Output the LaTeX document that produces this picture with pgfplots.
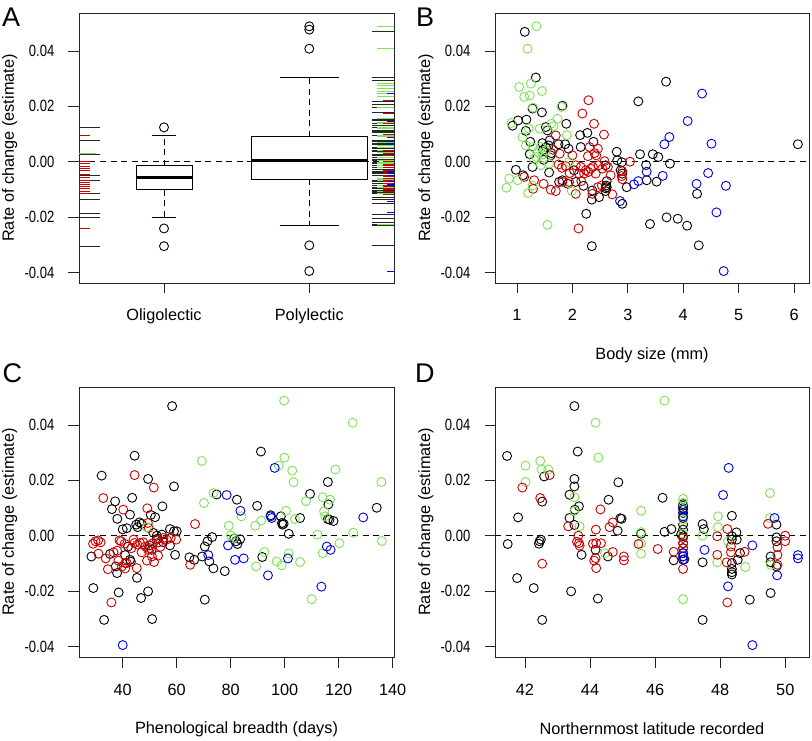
\documentclass[border=0pt]{standalone}
\usepackage{fontspec}
\setmainfont{Liberation Sans}
\usepackage{graphicx}
\usepackage{pgfplots}
\pgfplotsset{compat=1.18}

\definecolor{rred}{RGB}{205,0,0}
\definecolor{rgreen}{RGB}{125,228,85}
\definecolor{rblue}{RGB}{0,0,235}

% rug ticks: a line running inwards from the frame
\pgfdeclareplotmark{rugL}{\pgfpathmoveto{\pgfpointorigin}\pgfpathlineto{\pgfpoint{\pgfplotmarksize}{0pt}}\pgfusepathqstroke}
\pgfdeclareplotmark{rugR}{\pgfpathmoveto{\pgfpointorigin}\pgfpathlineto{\pgfpoint{-\pgfplotmarksize}{0pt}}\pgfusepathqstroke}

\newcommand\tickfont{\fontsize{16.3}{19}\selectfont}
\newcommand\letterfont{\fontsize{27}{30}\selectfont}
\newcommand\yl[1]{\scalebox{0.8}[1]{#1}}

\pgfplotsset{
  rpanel/.style={
    scale only axis, width=315pt, height=270pt,
    axis line style={black!85, line width=0.8pt},
    tick align=outside, tick pos=left, major tick length=10.5pt,
    every tick/.style={black!85, line width=0.8pt},
    ymin=-0.0438, ymax=0.0537, scaled y ticks=false,
    ytick={-0.04,-0.02,0,0.02,0.04},
    yticklabels={\yl{-0.04},\yl{-0.02},\yl{0.00},\yl{0.02},\yl{0.04}},
    tick label style={font=\tickfont, inner sep=0pt},
    xticklabel style={anchor=base, yshift=-27.5pt},
    yticklabel style={anchor=east, xshift=-14pt},
    ylabel={Rate of change (estimate)},
    every axis y label/.style={at={(axis description cs:-0.22,0.5)}, rotate=90, anchor=center, font=\tickfont},
    every axis x label/.style={at={(axis description cs:0.5,-0.267)}, anchor=center, font=\tickfont},
  },
  pts/.style={#1, only marks, mark=o, mark size=4.5pt, line width=0.9pt},
  zero/.style={black, line width=0.8pt, dash pattern=on 6pt off 4.5pt},
  rugl/.style={#1, only marks, mark=rugL, line width=0.9pt},
  rugr/.style={#1, only marks, mark=rugR, line width=0.9pt},
}

\begin{document}
\begin{tikzpicture}
\path[use as bounding box] (0pt,0pt) rectangle (812pt,740pt);

% ---------------- A ----------------
\begin{axis}[rpanel, at={(79pt,457pt)}, anchor=south west,
  xmin=0.415, xmax=2.583, xtick={1,2}, xticklabels={Oligolectic,Polylectic}]
\addplot[zero] coordinates {(0.415,0) (2.583,0)};
% left rug: oligolectic
\addplot[rugl=black!85, mark size=21pt] coordinates {(0.415,0.0125) (0.415,0.0075) (0.415,0.0027) (0.415,-0.0051) (0.415,-0.0068) (0.415,-0.0116) (0.415,-0.0137) (0.415,-0.0188) (0.415,-0.0202) (0.415,-0.0305)};
\addplot[rugl=rgreen, mark size=17pt] coordinates {(0.415,0.0031)};
\addplot[rugl=rred, mark size=11pt] coordinates {(0.415,0.0095) (0.415,0.0000) (0.415,-0.0007) (0.415,-0.0017) (0.415,-0.0025) (0.415,-0.0031) (0.415,-0.0045) (0.415,-0.0058) (0.415,-0.0066) (0.415,-0.0074) (0.415,-0.0082) (0.415,-0.0090) (0.415,-0.0098) (0.415,-0.0106) (0.415,-0.0115) (0.415,-0.0241)};
% right rug: polylectic
\addplot[rugr=black!85, mark size=22pt] table[row sep=\\] {x y\\
2.583 0.0469\\ 2.583 0.0304\\ 2.583 0.0294\\ 2.583 0.0218\\ 2.583 0.0206\\ 2.583 0.0195\\ 2.583 0.0178\\ 2.583 0.0152\\ 2.583 0.0149\\ 2.583 0.0137\\ 2.583 0.0130\\ 2.583 0.0124\\ 2.583 0.0113\\ 2.583 0.0110\\ 2.583 0.0106\\ 2.583 0.0104\\ 2.583 0.0096\\ 2.583 0.0076\\ 2.583 0.0072\\ 2.583 0.0067\\ 2.583 0.0063\\ 2.583 0.0061\\ 2.583 0.0053\\ 2.583 0.0047\\ 2.583 0.0040\\ 2.583 0.0036\\ 2.583 0.0027\\ 2.583 0.0024\\ 2.583 0.0017\\ 2.583 0.0007\\ 2.583 0.0005\\ 2.583 -0.0002\\ 2.583 -0.0007\\ 2.583 -0.0012\\ 2.583 -0.0020\\ 2.583 -0.0029\\ 2.583 -0.0035\\ 2.583 -0.0039\\ 2.583 -0.0043\\ 2.583 -0.0049\\ 2.583 -0.0067\\ 2.583 -0.0070\\ 2.583 -0.0073\\ 2.583 -0.0077\\ 2.583 -0.0080\\ 2.583 -0.0087\\ 2.583 -0.0092\\ 2.583 -0.0096\\ 2.583 -0.0104\\ 2.583 -0.0106\\ 2.583 -0.0111\\ 2.583 -0.0116\\ 2.583 -0.0128\\ 2.583 -0.0137\\ 2.583 -0.0152\\ 2.583 -0.0189\\ 2.583 -0.0206\\ 2.583 -0.0218\\ 2.583 -0.0225\\ 2.583 -0.0231\\ 2.583 -0.0302\\
};
\addplot[rugr=rgreen, mark size=17pt] table[row sep=\\] {x y\\
2.583 0.0489\\ 2.583 0.0408\\ 2.583 0.0284\\ 2.583 0.0275\\ 2.583 0.0265\\ 2.583 0.0255\\ 2.583 0.0246\\ 2.583 0.0236\\ 2.583 0.0195\\ 2.583 0.0155\\ 2.583 0.0140\\ 2.583 0.0137\\ 2.583 0.0125\\ 2.583 0.0119\\ 2.583 0.0096\\ 2.583 0.0090\\ 2.583 0.0070\\ 2.583 0.0059\\ 2.583 0.0053\\ 2.583 0.0041\\ 2.583 0.0035\\ 2.583 0.0017\\ 2.583 0.0004\\ 2.583 -0.0001\\ 2.583 -0.0007\\ 2.583 -0.0013\\ 2.583 -0.0020\\ 2.583 -0.0061\\ 2.583 -0.0063\\ 2.583 -0.0067\\ 2.583 -0.0086\\ 2.583 -0.0094\\ 2.583 -0.0106\\ 2.583 -0.0113\\ 2.583 -0.0228\\
};
\addplot[rugr=rred, mark size=11pt] table[row sep=\\] {x y\\
2.583 0.0222\\ 2.583 0.0176\\ 2.583 0.0137\\ 2.583 0.0098\\ 2.583 0.0042\\ 2.583 0.0029\\ 2.583 0.0023\\ 2.583 0.0002\\ 2.583 0.0000\\ 2.583 -0.0010\\ 2.583 -0.0014\\ 2.583 -0.0022\\ 2.583 -0.0030\\ 2.583 -0.0036\\ 2.583 -0.0043\\ 2.583 -0.0049\\ 2.583 -0.0055\\ 2.583 -0.0060\\ 2.583 -0.0067\\ 2.583 -0.0072\\ 2.583 -0.0080\\ 2.583 -0.0086\\ 2.583 -0.0090\\ 2.583 -0.0098\\ 2.583 -0.0101\\ 2.583 -0.0106\\ 2.583 -0.0117\\
};
\addplot[rugr=rblue, mark size=7pt] table[row sep=\\] {x y\\
2.583 0.0246\\ 2.583 0.0147\\ 2.583 0.0089\\ 2.583 0.0065\\ 2.583 0.0063\\ 2.583 -0.0036\\ 2.583 -0.0041\\ 2.583 -0.0051\\ 2.583 -0.0070\\ 2.583 -0.0082\\ 2.583 -0.0087\\ 2.583 -0.0143\\ 2.583 -0.0183\\ 2.583 -0.0395\\
};
% box plots
\addplot[black, line width=0.8pt] coordinates {(0.807,-0.0101) (1.193,-0.0101) (1.193,-0.00145) (0.807,-0.00145) (0.807,-0.0101)};
\addplot[black, line width=3.2pt] coordinates {(0.807,-0.00578) (1.193,-0.00578)};
\addplot[zero] coordinates {(1,-0.00145) (1,0.00952)};
\addplot[zero] coordinates {(1,-0.0101) (1,-0.0202)};
\addplot[black, line width=0.8pt] coordinates {(0.915,0.00952) (1.085,0.00952)};
\addplot[black, line width=0.8pt] coordinates {(0.915,-0.0202) (1.085,-0.0202)};
\addplot[pts=black] coordinates {(1,0.0124) (1,-0.0241) (1,-0.0305)};
\addplot[black, line width=0.8pt] coordinates {(1.601,-0.00627) (2.399,-0.00627) (2.399,0.00904) (1.601,0.00904) (1.601,-0.00627)};
\addplot[black, line width=3.2pt] coordinates {(1.601,0.00036) (2.399,0.00036)};
\addplot[zero] coordinates {(2,0.00904) (2,0.0304)};
\addplot[zero] coordinates {(2,-0.00627) (2,-0.0231)};
\addplot[black, line width=0.8pt] coordinates {(1.796,0.0304) (2.204,0.0304)};
\addplot[black, line width=0.8pt] coordinates {(1.796,-0.0231) (2.204,-0.0231)};
\addplot[pts=black] coordinates {(2,0.0477) (2,0.0489) (2,0.0408) (2,-0.0302) (2,-0.0395)};
\end{axis}
\node[anchor=base west, inner sep=0pt, font=\letterfont] at (2pt,713pt) {A};

% ---------------- B ----------------
\begin{axis}[rpanel, at={(495pt,457pt)}, anchor=south west, width=314pt,
  xmin=0.603, xmax=6.27, xtick={1,2,3,4,5,6}, xticklabels={1,2,3,4,5,6},
  xlabel={Body size (mm)}]
\addplot[zero] coordinates {(0.603,0) (6.27,0)};
\addplot[pts=black] coordinates {(1.14,0.0469)(1.34,0.0304)(3.69,0.0289)(3.19,0.0218)(1.82,0.0202)(1.45,0.0178)(0.92,0.0130)(1.02,0.0149)(1.17,0.0152)(1.16,0.0111)(1.52,0.0125)(1.55,0.0113)(1.89,0.0137)(2.14,0.0096)(2.27,0.0104)(2.38,0.0072)(1.24,0.0072)(1.46,0.0067)(1.59,0.0077)(1.75,0.0063)(1.87,0.0063)(1.93,0.0047)(2.15,0.0053)(1.23,0.0027)(1.52,0.0053)(1.61,0.0023)(1.48,0.0007)(2.80,0.0036)(2.81,0.0005)(3.22,0.0027)(3.45,0.0027)(3.55,0.0017)(3.76,-0.0007)(3.33,-0.0012)(2.89,-0.0002)(0.98,-0.0029)(1.11,-0.0049)(1.28,-0.0019)(1.58,-0.0039)(1.76,-0.0073)(1.82,-0.0067)(1.92,-0.0080)(2.03,-0.0031)(2.06,-0.0073)(2.20,-0.0087)(2.36,-0.0104)(2.48,-0.0128)(2.35,-0.0137)(2.61,-0.0086)(2.60,-0.0106)(2.62,-0.0070)(2.60,-0.0013)(2.90,-0.0043)(2.87,-0.0031)(2.98,-0.0092)(2.90,-0.0152)(3.34,-0.0067)(3.52,-0.0072)(4.25,-0.0116)(2.25,-0.0188)(3.40,-0.0225)(3.70,-0.0201)(3.90,-0.0206)(4.07,-0.0231)(2.35,-0.0305)(4.28,-0.0302)(6.07,0.0063)(1.47,0.0043)(1.57,0.0059)(1.62,0.0031)(2.60,-0.0096)(2.62,-0.0092)(1.28,0.0192)};
\addplot[pts=rred] coordinates {(2.29,0.0222)(2.18,0.0174)(2.39,0.0137)(2.57,0.0098)(1.70,0.0095)(2.31,0.0053)(2.46,0.0047)(2.40,0.0031)(2.43,0.0023)(2.28,0.0020)(1.77,0.0029)(2.00,0.0023)(2.58,0.0002)(3.04,0.0000)(1.75,-0.0010)(1.81,-0.0022)(1.88,-0.0016)(2.06,-0.0013)(2.15,-0.0019)(2.24,-0.0031)(2.33,-0.0025)(2.37,-0.0019)(2.47,-0.0013)(2.54,-0.0025)(2.64,-0.0019)(2.12,-0.0043)(2.21,-0.0043)(2.29,-0.0037)(2.42,-0.0043)(2.69,-0.0049)(2.89,-0.0052)(2.90,-0.0063)(2.90,-0.0034)(1.13,-0.0055)(1.31,-0.0067)(1.48,-0.0080)(1.29,-0.0098)(1.61,-0.0101)(1.70,-0.0106)(1.82,-0.0073)(1.94,-0.0073)(2.06,-0.0116)(2.36,-0.0116)(2.46,-0.0092)(2.53,-0.0086)(2.72,-0.0118)(2.11,-0.0241)(1.95,-0.0041)(2.16,-0.0070)(1.65,0.0043)};
\addplot[pts=rgreen] coordinates {(1.35,0.0489)(1.19,0.0408)(1.04,0.0270)(1.13,0.0234)(1.25,0.0282)(1.23,0.0239)(1.45,0.0255)(1.29,0.0195)(1.80,0.0198)(1.73,0.0155)(0.90,0.0140)(1.10,0.0089)(1.41,0.0119)(1.90,0.0096)(1.62,0.0137)(1.16,0.0059)(1.28,0.0053)(1.37,0.0035)(1.43,0.0053)(1.52,0.0041)(1.35,0.0017)(1.43,-0.0013)(1.58,-0.0007)(1.94,-0.0001)(0.86,-0.0061)(0.81,-0.0094)(1.01,-0.0067)(1.20,-0.0113)(1.28,-0.0086)(1.99,-0.0106)(1.55,-0.0228)(1.66,0.0128)(1.21,0.0120)(1.30,0.0010)(1.46,0.0025)};
\addplot[pts=rblue] coordinates {(4.34,0.0246)(4.08,0.0147)(4.51,0.0065)(3.75,0.0089)(3.66,0.0063)(4.45,-0.0041)(3.34,-0.0036)(3.63,-0.0051)(3.19,-0.0070)(3.11,-0.0082)(4.24,-0.0080)(4.77,-0.0087)(2.86,-0.0142)(4.60,-0.0183)(4.73,-0.0395)};
\end{axis}
\node[anchor=base west, inner sep=0pt, font=\letterfont] at (416pt,713pt) {B};

% ---------------- C ----------------
\begin{axis}[rpanel, at={(79pt,83pt)}, anchor=south west,
  xmin=23.8, xmax=140.5, xtick={40,60,80,100,120,140}, xticklabels={40,60,80,100,120,140},
  xlabel={Phenological breadth (days)}]
\addplot[zero] coordinates {(23.8,0) (140.5,0)};
\addplot[pts=black] coordinates {(58.3,0.0468)(32.2,0.0217)(44.4,0.0289)(49.4,0.0205)(59.0,0.0178)(37.2,0.0124)(36.0,0.0096)(38.0,0.0061)(43.5,0.0137)(42.7,0.0076)(54.7,0.0106)(50.4,0.0075)(52.0,0.0067)(45.0,0.0040)(46.2,0.0048)(47.0,0.0043)(45.5,0.0031)(41.5,0.0027)(51.4,0.0010)(54.5,0.0004)(57.5,0.0024)(59.0,0.0016)(60.0,0.0016)(52.6,0.0000)(55.0,-0.0023)(57.5,-0.0035)(28.4,-0.0075)(35.3,-0.0066)(40.9,-0.0070)(42.0,-0.0039)(42.7,-0.0087)(43.0,-0.0094)(37.4,-0.0111)(37.9,-0.0135)(45.3,-0.0152)(49.9,-0.0035)(50.7,-0.0051)(59.4,-0.0069)(64.7,-0.0078)(66.5,-0.0087)(69.4,-0.0075)(70.4,-0.0039)(71.4,-0.0020)(73.1,-0.0005)(72.1,-0.0093)(73.6,-0.0118)(77.8,-0.0128)(70.4,-0.0231)(74.8,0.0149)(82.3,0.0130)(81.3,-0.0010)(82.0,-0.0020)(82.5,-0.0030)(83.5,-0.0013)(29.1,-0.0189)(38.5,-0.0205)(49.4,-0.0201)(46.8,-0.0225)(33.1,-0.0304)(50.9,-0.0301)(91.2,0.0304)(89.8,0.0108)(94.8,0.0074)(98.6,0.0070)(99.0,0.0046)(99.2,0.0040)(99.6,0.0043)(101.5,0.0007)(105.7,0.0064)(109.4,0.0151)(116.0,0.0194)(116.2,0.0113)(116.0,0.0060)(116.6,0.0058)(118.1,0.0053)(134.1,0.0101)(91.7,-0.0077)(40.0,0.0023)(53.0,-0.0010)};
\addplot[pts=rred] coordinates {(44.4,0.0219)(51.5,0.0174)(32.8,0.0136)(40.2,0.0094)(49.1,0.0099)(66.8,0.0042)(49.3,0.0046)(49.6,0.0028)(29.0,-0.0029)(29.9,-0.0020)(30.9,-0.0017)(31.8,-0.0024)(31.0,-0.0065)(33.7,-0.0082)(34.5,-0.0121)(36.6,-0.0060)(37.9,-0.0054)(38.8,-0.0017)(39.4,-0.0020)(40.7,-0.0029)(40.9,-0.0099)(40.9,-0.0118)(44.0,-0.0014)(44.4,-0.0026)(45.4,-0.0032)(46.4,-0.0026)(47.6,-0.0024)(48.4,-0.0039)(49.4,-0.0051)(50.1,-0.0045)(51.1,-0.0027)(52.6,-0.0014)(53.3,-0.0024)(55.1,-0.0008)(56.3,-0.0014)(57.8,-0.0008)(49.0,-0.0090)(50.8,-0.0075)(51.6,-0.0095)(53.1,-0.0072)(45.2,-0.0117)(41.5,-0.0099)(35.8,-0.0241)(59.8,-0.0014)(65.0,-0.0105)(38.4,-0.0090)(39.7,-0.0111)(43.2,-0.0045)(47.0,-0.0060)(54.0,-0.0040)};
\addplot[pts=rgreen] coordinates {(99.8,0.0488)(125.2,0.0408)(69.3,0.0270)(99.9,0.0282)(97.8,0.0253)(102.8,0.0235)(103.3,0.0193)(118.8,0.0239)(135.8,0.0194)(70.1,0.0118)(73.6,0.0154)(84.0,0.0070)(79.3,0.0036)(80.0,0.0001)(89.1,0.0036)(91.3,0.0055)(100.5,0.0090)(103.8,0.0060)(107.9,0.0125)(114.1,0.0139)(116.8,0.0130)(114.6,0.0088)(112.1,0.0004)(125.4,0.0011)(120.3,-0.0027)(136.0,-0.0019)(92.5,-0.0059)(97.0,-0.0093)(98.9,-0.0107)(101.5,-0.0064)(105.7,-0.0095)(89.4,-0.0111)(114.1,-0.0063)(110.0,-0.0229)(48.9,0.0031)(81.0,-0.0010)(115.0,0.0070)};
\addplot[pts=rblue] coordinates {(96.3,0.0245)(78.5,0.0147)(83.6,0.0090)(94.8,0.0070)(95.2,0.0064)(129.1,0.0066)(79.0,-0.0035)(71.7,-0.0070)(81.6,-0.0087)(84.8,-0.0082)(101.2,-0.0082)(115.6,-0.0039)(117.0,-0.0051)(93.8,-0.0143)(113.6,-0.0184)(40.0,-0.0395)};
\end{axis}
\node[anchor=base west, inner sep=0pt, font=\letterfont] at (2.5pt,357pt) {C};

% ---------------- D ----------------
\begin{axis}[rpanel, at={(495pt,83pt)}, anchor=south west, width=314pt,
  xmin=41.08, xmax=50.73, xtick={42,44,46,48,50}, xticklabels={42,44,46,48,50},
  xlabel={Northernmost latitude recorded}]
\addplot[zero] coordinates {(41.08,0) (50.73,0)};
\addplot[pts=black] coordinates {(41.45,0.0288)(41.47,-0.0030)(41.79,0.0066)(41.76,-0.0153)(42.27,-0.0189)(42.53,-0.0304)(42.53,0.0123)(42.45,-0.0020)(42.49,-0.0014)(42.43,-0.0029)(42.59,0.0214)(43.52,0.0468)(43.62,0.0304)(43.37,0.0148)(43.37,0.0064)(43.52,0.0205)(43.52,0.0178)(43.53,0.0094)(43.66,0.0106)(43.52,0.0039)(43.42,-0.0201)(43.74,-0.0069)(44.17,-0.0051)(44.24,-0.0227)(44.57,0.0130)(44.55,-0.0075)(44.87,0.0193)(44.93,0.0063)(44.97,0.0061)(44.85,0.0018)(45.57,0.0007)(46.23,0.0137)(46.29,0.0014)(46.50,0.0024)(46.57,-0.0089)(46.86,0.0114)(46.86,0.0108)(46.86,0.0100)(46.86,0.0082)(46.86,0.0064)(46.86,0.0040)(46.86,0.0022)(46.86,-0.0002)(46.86,-0.0027)(46.86,-0.0045)(46.86,-0.0063)(46.86,-0.0075)(46.80,0.0005)(46.90,-0.0085)(47.46,0.0042)(47.50,0.0024)(47.46,-0.0096)(47.46,-0.0304)(48.36,0.0072)(48.36,-0.0002)(48.36,-0.0014)(48.36,-0.0099)(48.36,-0.0120)(48.36,-0.0132)(48.36,-0.0140)(48.50,0.0012)(48.51,-0.0014)(48.61,-0.0063)(48.54,-0.0087)(48.91,-0.0231)(49.55,-0.0207)(49.55,-0.0075)(49.55,-0.0096)(49.73,0.0040)(49.73,-0.0006)(49.73,-0.0020)(49.73,-0.0111)};
\addplot[pts=rgreen] coordinates {(46.29,0.0488)(44.17,0.0408)(44.26,0.0282)(42.02,0.0253)(42.47,0.0270)(42.51,0.0239)(42.72,0.0239)(42.02,0.0194)(43.52,0.0139)(43.52,0.0089)(43.68,0.0034)(44.46,-0.0063)(45.57,0.0090)(45.57,0.0013)(45.57,-0.0028)(45.57,-0.0065)(46.86,0.0133)(46.86,0.0118)(46.86,0.0058)(46.86,0.0006)(46.86,-0.0229)(47.46,0.0000)(47.93,0.0070)(47.93,0.0031)(47.91,-0.0096)(48.24,-0.0020)(48.77,-0.0113)(49.53,0.0154)(49.53,0.0064)(49.55,-0.0105)};
\addplot[pts=rred] coordinates {(41.92,0.0174)(42.47,0.0136)(42.53,-0.0101)(42.76,0.0219)(43.33,0.0034)(43.60,-0.0022)(43.66,-0.0027)(43.68,-0.0036)(43.64,0.0000)(44.18,0.0022)(44.32,0.0095)(44.09,-0.0029)(44.19,-0.0027)(44.34,-0.0027)(44.13,-0.0090)(44.17,-0.0081)(44.19,-0.0117)(44.60,0.0031)(44.70,0.0048)(44.70,-0.0059)(45.04,-0.0075)(45.04,-0.0089)(45.49,-0.0030)(46.08,-0.0048)(46.57,-0.0058)(46.86,-0.0008)(46.86,-0.0027)(46.86,-0.0045)(46.86,-0.0087)(46.86,-0.0120)(47.91,-0.0002)(47.91,-0.0069)(48.22,0.0024)(48.20,-0.0096)(48.22,-0.0241)(48.33,-0.0039)(48.33,-0.0060)(48.75,-0.0058)(49.47,0.0043)(49.76,-0.0041)(49.76,-0.0070)(49.76,-0.0105)(50.00,0.0000)(50.00,-0.0020)};
\addplot[pts=rblue] coordinates {(48.26,0.0245)(48.09,0.0147)(47.52,-0.0051)(48.24,-0.0183)(48.99,-0.0035)(49.67,0.0064)(49.75,-0.0143)(48.99,-0.0395)(50.39,-0.0070)(50.39,-0.0082)(46.86,0.0094)(46.86,0.0070)(46.86,-0.0063)(46.86,-0.0075)(46.86,-0.0087)};
\end{axis}
\node[anchor=base west, inner sep=0pt, font=\letterfont] at (415pt,357pt) {D};
\end{tikzpicture}
\end{document}
